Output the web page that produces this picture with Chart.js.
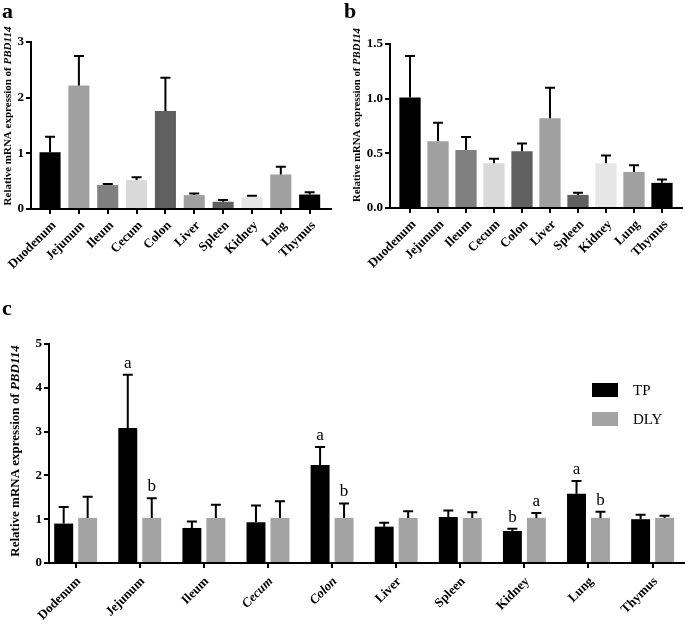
<!DOCTYPE html>
<html>
<head>
<meta charset="utf-8">
<script src="https://cdn.jsdelivr.net/npm/chart.js@4.4.1/dist/chart.umd.min.js"></script>
<style>
body{margin:0;background:#fff;width:685px;height:629px;position:relative;overflow:hidden}
canvas{position:absolute}
#chartA{left:0;top:0}
#chartB{left:340px;top:0}
#chartC{left:0;top:290px}
</style>
</head>
<body>
<canvas id="chartA" width="340" height="290"></canvas>
<canvas id="chartB" width="345" height="290"></canvas>
<canvas id="chartC" width="685" height="339"></canvas>
<script>
// panel a / b : tissue distribution
var tissuesAB = ['Duodenum','Jejunum','Ileum','Cecum','Colon','Liver','Spleen','Kidney','Lung','Thymus'];
var meanA = [1.02, 2.22, 0.43, 0.52, 1.76, 0.25, 0.13, 0.22, 0.62, 0.26];
var sdA   = [0.28, 0.53, 0.02, 0.05, 0.60, 0.03, 0.03, 0.02, 0.14, 0.04];
var meanB = [1.01, 0.61, 0.53, 0.41, 0.52, 0.82, 0.12, 0.41, 0.33, 0.23];
var sdB   = [0.38, 0.17, 0.12, 0.04, 0.07, 0.28, 0.02, 0.07, 0.06, 0.03];
var colorsAB = ['#000000','#a0a0a0','#808080','#d9d9d9','#606060','#a0a0a0','#606060','#e6e6e6','#a0a0a0','#000000'];

// panel c : TP vs DLY
var tissuesC = ['Dodenum','Jejunum','Ileum','Cecum','Colon','Liver','Spleen','Kidney','Lung','Thymus'];
var meanTP  = [0.90, 3.08, 0.80, 0.93, 2.24, 0.83, 1.05, 0.73, 1.58, 1.00];
var sdTP    = [0.38, 1.22, 0.15, 0.38, 0.41, 0.09, 0.15, 0.05, 0.29, 0.10];
var meanDLY = [1.03, 1.03, 1.03, 1.03, 1.03, 1.03, 1.03, 1.03, 1.03, 1.03];
var sdDLY   = [0.48, 0.45, 0.30, 0.38, 0.33, 0.15, 0.13, 0.11, 0.14, 0.05];
var lettersTP  = ['', 'a', '', '', 'a', '', '', 'b', 'a', ''];
var lettersDLY = ['', 'b', '', '', 'b', '', '', 'a', 'b', ''];

var SERIF = '"Liberation Serif", "Times New Roman", serif';

function points(values) {
    return values.map(function(v, i){ return {x:i, y:v}; });
}

// upper error bars + significance letters
var errorBars = {
    id:'errorBars',
    afterDatasetsDraw:function(chart) {
        var ctx = chart.ctx;
        var yScale = chart.scales.y;
        chart.data.datasets.forEach(function(ds, di){
            var meta = chart.getDatasetMeta(di);
            ctx.save();
            ctx.strokeStyle = '#000';
            ctx.lineWidth = 2;
            meta.data.forEach(function(bar, i){
                var top = yScale.getPixelForValue(ds.data[i].y + ds.errors[i]);
                ctx.beginPath();
                ctx.moveTo(bar.x, bar.y);
                ctx.lineTo(bar.x, top);
                ctx.moveTo(bar.x - 5, top);
                ctx.lineTo(bar.x + 5, top);
                ctx.stroke();
                if(ds.letters && ds.letters[i]) {
                    ctx.fillStyle = '#000';
                    ctx.font = '17px ' + SERIF;
                    ctx.textAlign = 'center';
                    ctx.textBaseline = 'alphabetic';
                    ctx.fillText(ds.letters[i], bar.x, top - 7);
                }
            });
            ctx.restore();
        });
    }
};

// panel letter, y title with italic gene name, legend
var deco = {
    id:'deco',
    afterDraw:function(chart, args, o) {
        var ctx = chart.ctx;
        ctx.save();
        ctx.fillStyle = '#000';
        ctx.font = 'bold 22px ' + SERIF;
        ctx.textAlign = 'left';
        ctx.textBaseline = 'alphabetic';
        ctx.fillText(o.panel, o.panelX, o.panelY);

        ctx.save();
        ctx.translate(o.titleX, o.titleY);
        ctx.rotate(-Math.PI / 2);
        ctx.textBaseline = 'middle';
        var f1 = 'bold ' + o.titleSize + 'px ' + SERIF;
        var f2 = 'italic bold ' + o.titleSize + 'px ' + SERIF;
        ctx.font = f1;
        var w1 = ctx.measureText('Relative mRNA expression of ').width;
        ctx.font = f2;
        var w2 = ctx.measureText('PBD114').width;
        var x0 = -(w1 + w2) / 2;
        ctx.font = f1;
        ctx.fillText('Relative mRNA expression of ', x0, 0);
        ctx.font = f2;
        ctx.fillText('PBD114', x0 + w1, 0);
        ctx.restore();

        if(o.legend) {
            ctx.font = '15px ' + SERIF;
            ctx.textBaseline = 'middle';
            chart.data.datasets.forEach(function(ds, i){
                var y = o.legendY + i * 29;
                ctx.fillStyle = ds.backgroundColor;
                ctx.fillRect(o.legendX, y - 7, 26, 14);
                ctx.fillStyle = '#000';
                ctx.fillText(ds.label, o.legendX + 41, y + 1);
            });
        }
        ctx.restore();
    }
};

function xAxis(labels, min, max, height, pad, shift, fontFn) {
    return {
        type:'linear',
        min:min, max:max,
        offset:false,
        afterBuildTicks:function(s){
            s.ticks = labels.map(function(l, i){ return {value:i}; });
        },
        afterFit:function(s){ s.height = height; },
        border:{color:'#000', width:2},
        grid:{display:true, offset:false, drawOnChartArea:false, drawTicks:true, tickLength:5, color:'#000', lineWidth:2},
        ticks:{
            autoSkip:false, minRotation:45, maxRotation:45, padding:pad, labelOffset:shift, color:'#000',
            font:fontFn,
            callback:function(v){ return labels[v]; }
        }
    };
}

function yAxis(max, step, width, decimals) {
    return {
        min:0, max:max,
        afterFit:function(s){ s.width = width; },
        border:{color:'#000', width:2},
        grid:{display:true, drawOnChartArea:false, drawTicks:true, tickLength:5, color:'#000', lineWidth:2},
        ticks:{
            stepSize:step, padding:2, color:'#000',
            font:{family:SERIF, size:13, weight:'bold'},
            callback:function(v){ return v.toFixed(decimals); }
        }
    };
}

function boldTick() { return {family:SERIF, size:13, weight:'bold'}; }

var chartA = new Chart(document.getElementById('chartA'), {
    type:'bar',
    data:{
        datasets:[{
            label:'a', data:points(meanA), errors:sdA,
            backgroundColor:colorsAB, borderWidth:0,
            categoryPercentage:1, barPercentage:0.73
        }]
    },
    options:{
        responsive:false, animation:false,
        layout:{padding:{left:0, top:42, right:9, bottom:0}},
        plugins:{
            legend:{display:false}, tooltip:{enabled:false},
            deco:{panel:'a', panelX:2, panelY:18, titleX:8, titleY:116, titleSize:11}
        },
        scales:{
            x:xAxis(tissuesAB, -0.66, 9.74, 81, 4, 4, boldTick),
            y:yAxis(3, 1, 31, 0)
        }
    },
    plugins:[errorBars, deco]
});

var chartB = new Chart(document.getElementById('chartB'), {
    type:'bar',
    data:{
        datasets:[{
            label:'b', data:points(meanB), errors:sdB,
            backgroundColor:colorsAB, borderWidth:0,
            categoryPercentage:1, barPercentage:0.76
        }]
    },
    options:{
        responsive:false, animation:false,
        layout:{padding:{left:0, top:44, right:3, bottom:0}},
        plugins:{
            legend:{display:false}, tooltip:{enabled:false},
            deco:{panel:'b', panelX:4, panelY:18, titleX:17, titleY:115, titleSize:10.7}
        },
        scales:{
            x:xAxis(tissuesAB, -0.715, 9.715, 82, 4, 4, boldTick),
            y:yAxis(1.5, 0.5, 50, 1)
        }
    },
    plugins:[errorBars, deco]
});

var chartC = new Chart(document.getElementById('chartC'), {
    type:'bar',
    data:{
        datasets:[{
            label:'TP', data:points(meanTP), errors:sdTP, letters:lettersTP,
            backgroundColor:'#000000', borderWidth:0,
            categoryPercentage:0.748, barPercentage:0.79
        },{
            label:'DLY', data:points(meanDLY), errors:sdDLY, letters:lettersDLY,
            backgroundColor:'#a3a3a3', borderWidth:0,
            categoryPercentage:0.748, barPercentage:0.79
        }]
    },
    options:{
        responsive:false, animation:false,
        layout:{padding:{left:0, top:54, right:1, bottom:0}},
        plugins:{
            legend:{display:false}, tooltip:{enabled:false},
            deco:{panel:'c', panelX:2, panelY:25, titleX:16, titleY:161, titleSize:13,
                  legend:true, legendX:592, legendY:100}
        },
        scales:{
            x:xAxis(tissuesC, -0.416, 9.49, 66, 6, 3, function(c){
                if(c.index == 3 || c.index == 4) return {family:SERIF, size:13, style:'italic', weight:'bold'};
                return {family:SERIF, size:13, weight:'bold'};
            }),
            y:yAxis(5, 1, 49, 0)
        }
    },
    plugins:[errorBars, deco]
});
</script>
</body>
</html>
